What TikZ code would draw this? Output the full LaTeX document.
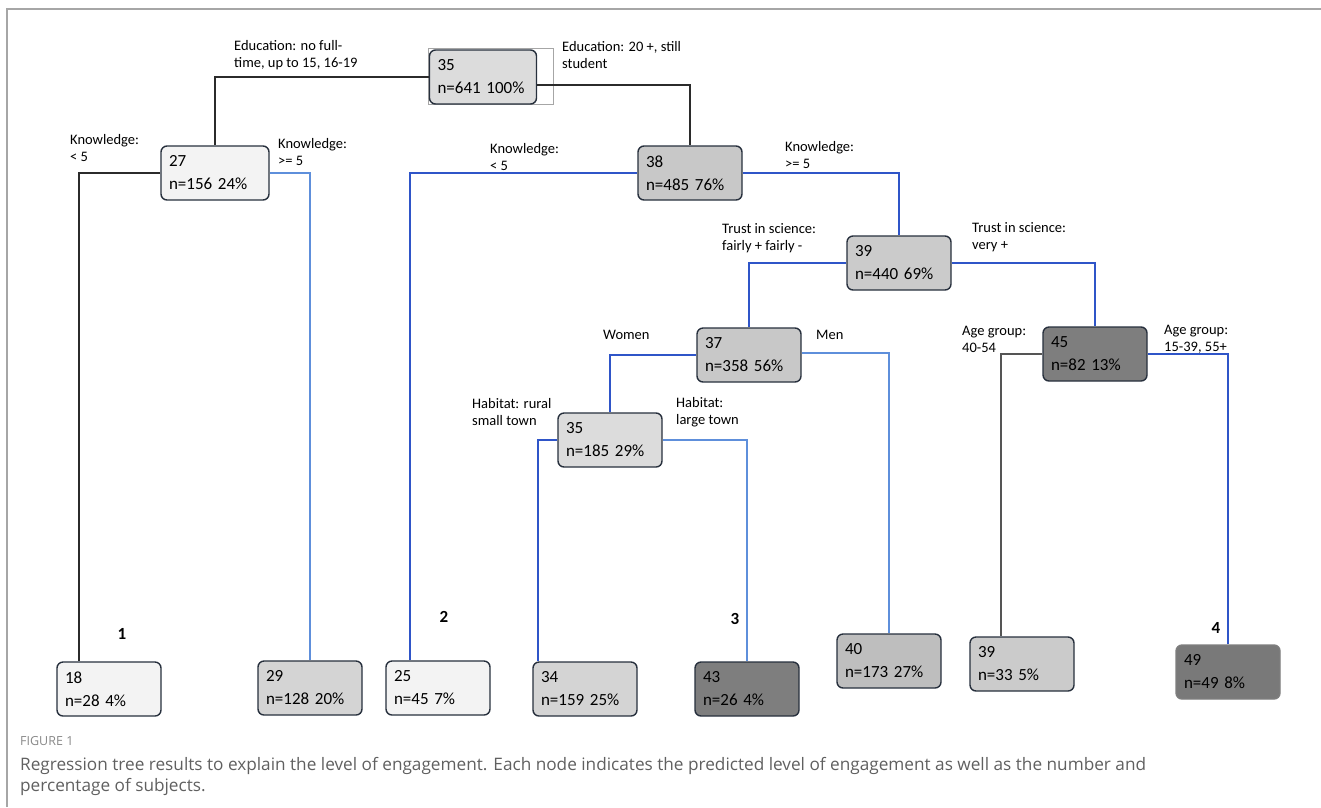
\documentclass[tikz,border=0pt]{standalone}
\usepackage{fontspec}
\setmainfont{Carlito}
\newfontfamily\captionfont{Open Sans}
\usetikzlibrary{positioning}
\definecolor{ink}{HTML}{27303D}
\definecolor{framegray}{HTML}{A6A6A6}
\definecolor{lineblack}{HTML}{2B2B2B}
\definecolor{linegray}{HTML}{555555}
\definecolor{lineblue}{HTML}{2F55C8}
\definecolor{lightblue}{HTML}{5E8FDB}
\definecolor{palebg}{HTML}{F3F3F3}
\definecolor{rootbg}{HTML}{DCDCDC}
\definecolor{midbg}{HTML}{D4D4D4}
\definecolor{greybg}{HTML}{C8C8C8}
\definecolor{darkbg}{HTML}{7E7E7E}
\definecolor{captext}{HTML}{606060}
\tikzset{
  box/.style={
    draw=ink,
    line width=1.4pt,
    rounded corners=6pt,
    align=left,
    text width=88pt,
    inner xsep=8pt,
    minimum height=54pt,
    font=\fontsize{17}{23}\selectfont
  },
  cond/.style={anchor=west, align=left, inner sep=0pt, font=\fontsize{14.5}{17}\selectfont},
  stepnum/.style={inner sep=0pt, font=\fontsize{17}{20}\selectfont\bfseries},
  blackedge/.style={draw=lineblack, line width=1.5pt},
  grayedge/.style={draw=linegray, line width=1.3pt},
  blueedge/.style={draw=lineblue, line width=1.5pt},
  lightedge/.style={draw=lightblue, line width=1.5pt}
}

\begin{document}
\begin{tikzpicture}[x=1pt, y=-1pt]

\useasboundingbox (0,0) rectangle (1321,807);
\draw[framegray, line width=2pt] (7,807) -- (7,9) -- (1321,9);
\draw[framegray, line width=1pt] (428,48) rectangle (553,104);

\node[box, fill=rootbg, text width=91pt] (root) at (483,77) {35\\n=641 100\%};
\node[box, fill=palebg, text width=92pt] (n27) at (215,173) {27\\n=156 24\%};
\node[box, fill=greybg] (n38) at (690,173) {38\\n=485 76\%};
\node[box, fill=greybg!95!white] (n39) at (899,263) {39\\n=440 69\%};
\node[box, fill=greybg] (n37) at (749,355) {37\\n=358 56\%};
\node[box, fill=darkbg] (n45) at (1095,354) {45\\n=82 13\%};
\node[box, fill=rootbg] (n35b) at (610,440) {35\\n=185 29\%};

\node[box, fill=palebg] (n18) at (109,689) {18\\n=28 4\%};
\node[box, fill=midbg] (n29) at (310,688) {29\\n=128 20\%};
\node[box, fill=palebg] (n25) at (438,688) {25\\n=45 7\%};
\node[box, fill=midbg] (n34) at (585,689) {34\\n=159 25\%};
\node[box, fill=darkbg] (n43) at (747,689) {43\\n=26 4\%};
\node[box, fill=greybg!95!black] (n40) at (889,661) {40\\n=173 27\%};
\node[box, fill=greybg!95!white] (n39b) at (1022,664) {39\\n=33 5\%};
\node[box, fill=darkbg!96!black, draw=darkbg] (n49) at (1228,672) {49\\n=49 8\%};

\node[cond] (edu1) at (234,55) {Education: no full-\\time, up to 15, 16-19};
\node[cond] (edu2) at (562,55) {Education: 20 +, still\\student};
\node[cond] (kn1) at (70,148) {Knowledge:\\ < 5};
\node[cond] (kn2) at (278,152) {Knowledge:\\ >= 5};
\node[cond] (kn3) at (490,157) {Knowledge:\\ < 5};
\node[cond] (kn4) at (785,155) {Knowledge:\\ >= 5};
\node[cond] (tr1) at (722,238) {Trust in science:\\fairly + fairly -};
\node[cond] (tr2) at (972,237) {Trust in science:\\very +};
\node[cond] (women) at (603,335) {Women};
\node[cond] (men) at (816,335) {Men};
\node[cond] (hab1) at (472,412) {Habitat: rural\\small town};
\node[cond] (hab2) at (676,412) {Habitat:\\large town};
\node[cond] (age1) at (962,339) {Age group:\\40-54};
\node[cond] (age2) at (1164,339) {Age group:\\15-39, 55+};

\node[stepnum] (s1) at (122,634) {1};
\node[stepnum] (s2) at (444,617) {2};
\node[stepnum] (s3) at (735,619) {3};
\node[stepnum] (s4) at (1216,628) {4};

\node[anchor=west, inner sep=0pt, text=captext!75!white, font=\captionfont\fontsize{12.5}{14}\selectfont] (fig) at (20,741) {FIGURE 1};
\node[anchor=north west, inner sep=0pt, align=left, text=captext, font=\captionfont\fontsize{17.2}{21}\selectfont] (caption) at (20,757) {Regression tree results to explain the level of engagement. Each node indicates the predicted level of engagement as well as the number and\\percentage of subjects.};

\draw[blackedge] (root.west) -| (n27.north);
\draw[blackedge] ([yshift=-8pt]root.east) -| (n38.north);
\draw[blackedge] (n27.west) -| ([xshift=-30pt]n18.north);
\draw[lightedge] (n27.east) -| (n29.north);
\draw[blueedge] (n38.west) -| ([xshift=-28pt]n25.north);
\draw[blueedge] (n38.east) -| (n39.north);
\draw[blueedge] (n39.west) -| (n37.north);
\draw[blueedge] (n39.east) -| (n45.north);
\draw[blueedge] (n37.west) -| (n35b.north);
\draw[lightedge] ([yshift=2pt]n37.east) -| (n40.north);
\draw[blueedge] (n35b.west) -| ([xshift=-47pt]n34.north);
\draw[lightedge] (n35b.east) -| (n43.north);
\draw[grayedge] (n45.west) -| ([xshift=-21pt]n39b.north);
\draw[blueedge] (n45.east) -| (n49.north);

\end{tikzpicture}
\end{document}
